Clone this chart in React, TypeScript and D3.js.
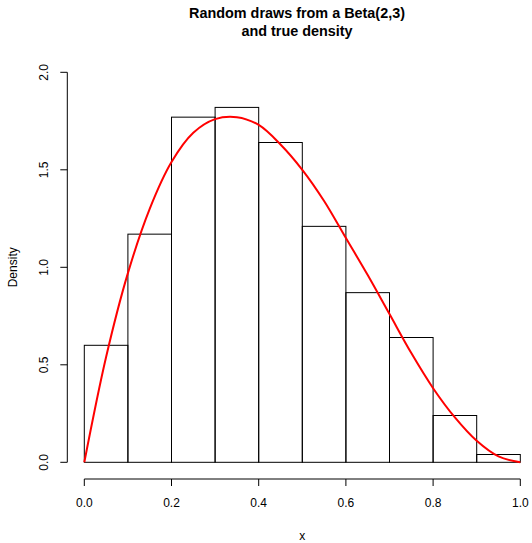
import { useMemo } from 'react'
import * as d3 from 'd3'

// histogram: bin edges and densities
const BREAKS = [0, 0.1, 0.2, 0.3, 0.4, 0.5, 0.6, 0.7, 0.8, 0.9, 1.0]
const DENSITY = [0.6, 1.17, 1.77, 1.82, 1.64, 1.21, 0.87, 0.64, 0.24, 0.04]

// red curve
const CURVE_X = [0, 0.05, 0.1, 0.15, 0.2, 0.25, 0.3, 0.35, 0.4, 0.45, 0.5,
  0.55, 0.6, 0.65, 0.7, 0.75, 0.8, 0.85, 0.9, 0.95, 1.0]
const CURVE_Y = [0, 0.54, 0.97, 1.3, 1.54, 1.69, 1.76, 1.77, 1.73, 1.63, 1.5,
  1.34, 1.15, 0.96, 0.76, 0.56, 0.38, 0.23, 0.11, 0.03, 0]

const X_TICKS = [0, 0.2, 0.4, 0.6, 0.8, 1.0]
const Y_TICKS = [0, 0.5, 1.0, 1.5, 2.0]

const W = 532
const H = 543
const FONT = '"Liberation Sans", Arial, Helvetica, sans-serif'

export default function App() {
  const x = d3.scaleLinear().domain([0, 1]).range([84.3, 520.3])
  const y = d3.scaleLinear().domain([0, 2]).range([462.3, 72.3])

  const curvePath = useMemo(() => {
    const pts = CURVE_X.map((v, i) => [v, CURVE_Y[i]] as [number, number])
    return d3.line<[number, number]>()
      .x(d => x(d[0]))
      .y(d => y(d[1]))
      .curve(d3.curveCatmullRom)(pts)
  }, [])

  const axisY = 479
  const axisX = 67.3

  return (
    <svg width={W} height={H} style={{ position: 'absolute', left: 0, top: 0, background: '#fff' }}
      fontFamily={FONT}>
      {/* title */}
      <text x={297} y={18.3} textAnchor="middle" fontSize={14.4} fontWeight="bold">
        Random draws from a Beta(2,3)
      </text>
      <text x={297} y={36} textAnchor="middle" fontSize={14.4} fontWeight="bold">
        and true density
      </text>

      {/* bars */}
      {DENSITY.map((d, i) => (
        <rect key={i}
          x={x(BREAKS[i])} y={y(d)}
          width={x(BREAKS[i + 1]) - x(BREAKS[i])}
          height={y(0) - y(d)}
          fill="none" stroke="#000" strokeWidth={1} />
      ))}

      {/* density curve */}
      <path d={curvePath || ''} fill="none" stroke="#ff0000" strokeWidth={2} />

      {/* x axis */}
      <line x1={x(0)} x2={x(1)} y1={axisY} y2={axisY} stroke="#000" />
      {X_TICKS.map(t => (
        <g key={t}>
          <line x1={x(t)} x2={x(t)} y1={axisY} y2={axisY + 7} stroke="#000" />
          <text x={x(t)} y={507} textAnchor="middle" fontSize={12}>{t.toFixed(1)}</text>
        </g>
      ))}
      <text x={302.3} y={539.5} textAnchor="middle" fontSize={12}>x</text>

      {/* y axis */}
      <line x1={axisX} x2={axisX} y1={y(0)} y2={y(2)} stroke="#000" />
      {Y_TICKS.map(t => (
        <g key={t}>
          <line x1={axisX - 7} x2={axisX} y1={y(t)} y2={y(t)} stroke="#000" />
          <text transform={`translate(48,${y(t)}) rotate(-90)`} textAnchor="middle" fontSize={12}>
            {t.toFixed(1)}
          </text>
        </g>
      ))}
      <text transform={`translate(17,${(y(0) + y(2)) / 2}) rotate(-90)`} textAnchor="middle" fontSize={12}>
        Density
      </text>
    </svg>
  )
}
